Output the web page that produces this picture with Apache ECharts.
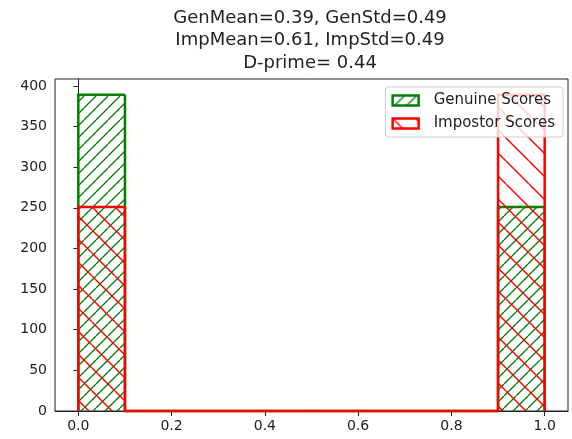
<!DOCTYPE html>
<html>
<head>
<meta charset="utf-8">
<script src="https://cdn.jsdelivr.net/npm/echarts@6/dist/echarts.min.js"></script>
<style>
  html, body { margin: 0; padding: 0; background: #fff; }
  #chart { width: 572px; height: 439px; }
</style>
</head>
<body>
<div id="chart"></div>
<script>
// histogram bins (10 bins over 0..1)
const binEdges = [0, 0.1, 0.2, 0.3, 0.4, 0.5, 0.6, 0.7, 0.8, 0.9, 1.0];
const genuineCounts = [389, 0, 0, 0, 0, 0, 0, 0, 0, 251];
const impostorCounts = [251, 0, 0, 0, 0, 0, 0, 0, 0, 389];
const xTicks = [0, 0.2, 0.4, 0.6, 0.8, 1.0];
const yTicks = [0, 50, 100, 150, 200, 250, 300, 350, 400];
const titleLines = ['GenMean=0.39, GenStd=0.49', 'ImpMean=0.61, ImpStd=0.49', 'D-prime= 0.44'];

const font = 'DejaVu Sans';

// hatch tile, dir 1 = "/" , -1 = "\"
function hatch(color, step, dir, w) {
    const c = document.createElement('canvas');
    c.width = step; c.height = step;
    const ctx = c.getContext('2d');
    ctx.strokeStyle = color;
    ctx.lineWidth = w;
    for (let k = -1; k <= 1; k++) {
        ctx.beginPath();
        if (dir > 0) {
            ctx.moveTo(k * step, step);
            ctx.lineTo(k * step + step, 0);
        } else {
            ctx.moveTo(k * step, 0);
            ctx.lineTo(k * step + step, step);
        }
        ctx.stroke();
    }
    return { image: c, repeat: 'repeat' };
}

const greenHatch = hatch('#008000', 12, 1, 1.3);
const redHatch = hatch('#ff0000', 23, -1, 1.4);

function binData(counts) {
    return counts.map((v, i) => [binEdges[i], binEdges[i + 1], v, i > 0 ? counts[i - 1] : 0, i === counts.length - 1 ? 1 : 0]);
}

function makeRender(color, pattern) {
    return function (params, api) {
        const lo = api.value(0), hi = api.value(1), cnt = api.value(2), prev = api.value(3), last = api.value(4);
        const children = [];
        if (cnt > 0) {
            children.push({
                type: 'polygon',
                shape: { points: [api.coord([lo, 0]), api.coord([lo, cnt]), api.coord([hi, cnt]), api.coord([hi, 0])] },
                style: { fill: pattern, stroke: null }
            });
        }
        const pts = [api.coord([lo, prev]), api.coord([lo, cnt]), api.coord([hi, cnt])];
        if (last) pts.push(api.coord([hi, 0]));
        children.push({
            type: 'polyline',
            shape: { points: pts },
            style: { stroke: color, lineWidth: 2.5, fill: null, lineJoin: 'miter' }
        });
        return { type: 'group', children: children };
    };
}

const chart = echarts.init(document.getElementById('chart'), null, { renderer: 'canvas' });
const option = {
    animation: false,
    backgroundColor: '#fff',
    title: {
        text: titleLines.join('\n'),
        left: 305,
        top: 2,
        textAlign: 'center',
        textStyle: { fontFamily: font, fontSize: 18, fontWeight: 'normal', color: '#222', lineHeight: 22.5 }
    },
    grid: { left: 55, right: 4, top: 79, bottom: 28, show: true, borderColor: '#222', borderWidth: 1, backgroundColor: 'transparent' },
    legend: {
        orient: 'vertical',
        right: 9,
        top: 87,
        padding: [6, 8, 6, 6],
        itemWidth: 26,
        itemHeight: 10,
        itemGap: 8,
        backgroundColor: 'rgba(255,255,255,0.8)',
        borderColor: '#ccc',
        borderWidth: 1,
        borderRadius: 3,
        textStyle: { fontFamily: font, fontSize: 15, color: '#222', padding: [0, 0, 0, 10] },
        data: [
            { name: 'Genuine Scores', icon: 'rect', itemStyle: { color: greenHatch, borderColor: '#008000', borderWidth: 2.5 } },
            { name: 'Impostor Scores', icon: 'rect', itemStyle: { color: redHatch, borderColor: '#ff0000', borderWidth: 2.5 } }
        ]
    },
    xAxis: {
        type: 'value',
        min: -0.05,
        max: 1.05,
        splitLine: { show: false },
        axisLine: { show: true, onZero: false, lineStyle: { color: '#222', width: 1 } },
        axisTick: { show: true, customValues: xTicks, length: 5, lineStyle: { color: '#222' } },
        axisLabel: { customValues: xTicks, formatter: v => v.toFixed(1), fontFamily: font, fontSize: 14, color: '#222', margin: 8 }
    },
    yAxis: {
        type: 'value',
        min: 0,
        max: 408.45,
        splitLine: { show: false },
        axisLine: { show: true, lineStyle: { color: '#222', width: 1 } },
        axisTick: { show: true, customValues: yTicks, length: 5, lineStyle: { color: '#222' } },
        axisLabel: { customValues: yTicks, fontFamily: font, fontSize: 14, color: '#222', margin: 8 }
    },
    series: [
        {
            name: 'Genuine Scores',
            type: 'custom',
            itemStyle: { color: '#008000' },
            renderItem: makeRender('#008000', greenHatch),
            encode: { x: [0, 1], y: 2 },
            data: binData(genuineCounts),
            z: 2
        },
        {
            name: 'Impostor Scores',
            type: 'custom',
            itemStyle: { color: '#ff0000' },
            renderItem: makeRender('#ff0000', redHatch),
            encode: { x: [0, 1], y: 2 },
            data: binData(impostorCounts),
            z: 3
        }
    ]
};
chart.setOption(option);
</script>
</body>
</html>
